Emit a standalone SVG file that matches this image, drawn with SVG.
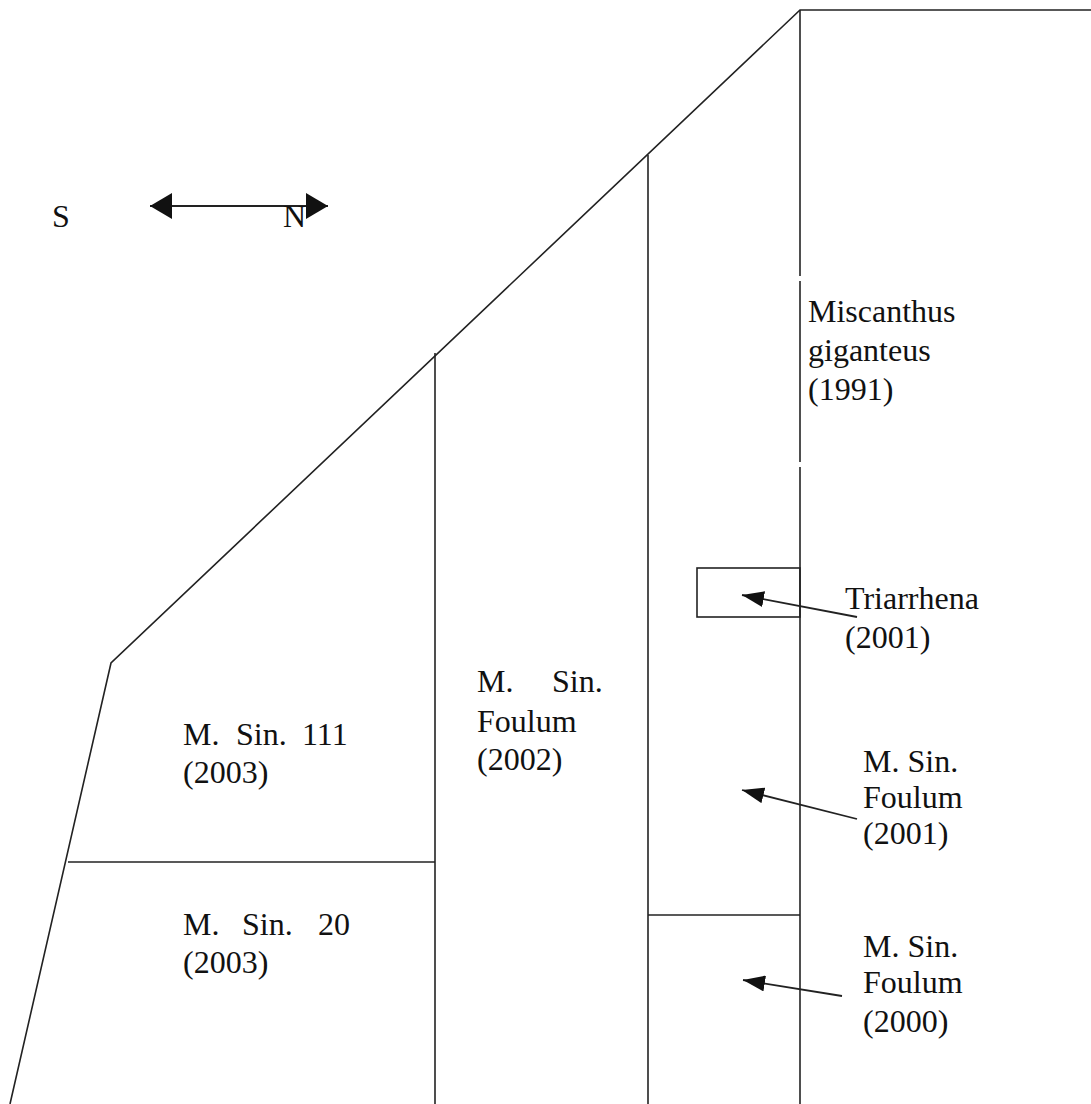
<svg xmlns="http://www.w3.org/2000/svg" width="1091" height="1104" viewBox="0 0 1091 1104">
<style>
.ln{stroke:#222;stroke-width:1.6;fill:none}
.ar{stroke:#222;stroke-width:1.8;fill:none}
.t{font-family:"Liberation Serif","DejaVu Serif","Times New Roman",serif;font-size:32px;fill:#111}
</style>
<defs>
<marker id="head" viewBox="0 0 10 10" refX="10" refY="5" markerWidth="22" markerHeight="16" markerUnits="userSpaceOnUse" orient="auto-start-reverse" preserveAspectRatio="none">
<path d="M0,0 L10,5 L0,10 Z" fill="#111"/>
</marker>
<marker id="chead" viewBox="0 0 10 10" refX="10" refY="5" markerWidth="22" markerHeight="26" markerUnits="userSpaceOnUse" orient="auto-start-reverse" preserveAspectRatio="none">
<path d="M0,0 L10,5 L0,10 Z" fill="#111"/>
</marker>
</defs>
<rect width="1091" height="1104" fill="#fff"/>
<g id="field-outline">
<polyline class="ln" points="1091,10 800,10 111,663 10,1104"/>
<line class="ln" x1="800" y1="10" x2="800" y2="276"/>
<line class="ln" x1="800" y1="281" x2="800" y2="462"/>
<line class="ln" x1="800" y1="467" x2="800" y2="1104"/>
<line class="ln" x1="648" y1="155" x2="648" y2="1104"/>
<line class="ln" x1="435" y1="353" x2="435" y2="1104"/>
<line class="ln" x1="68" y1="862" x2="435" y2="862"/>
<line class="ln" x1="648" y1="915" x2="800" y2="915"/>
<rect class="ln" x="697" y="568" width="103" height="49"/>
</g>
<g id="compass">
<line class="ar" x1="150" y1="206" x2="328" y2="206" marker-start="url(#chead)" marker-end="url(#chead)"/>
<text class="t" font-family="Liberation Serif, DejaVu Serif, serif" x="52" y="227">S</text>
<text class="t" font-family="Liberation Serif, DejaVu Serif, serif" x="283" y="227">N</text>
</g>
<g id="node-miscanthus" class="t" font-family="Liberation Serif, DejaVu Serif, serif">
<text class="t" x="808" y="322">Miscanthus</text>
<text class="t" x="808" y="361">giganteus</text>
<text class="t" x="808" y="400">(1991)</text>
</g>
<g id="node-triarrhena">
<text class="t" x="845" y="609">Triarrhena</text>
<text class="t" x="845" y="648">(2001)</text>
</g>
<g id="node-msin-foulum-2001">
<text class="t" x="863" y="772">M. Sin.</text>
<text class="t" x="863" y="808">Foulum</text>
<text class="t" x="863" y="844">(2001)</text>
</g>
<g id="node-msin-foulum-2000">
<text class="t" x="863" y="957">M. Sin.</text>
<text class="t" x="863" y="993">Foulum</text>
<text class="t" x="863" y="1032">(2000)</text>
</g>
<g id="node-msin-foulum-2002">
<text class="t" y="692"><tspan x="477">M.</tspan><tspan x="552">Sin.</tspan></text>
<text class="t" x="477" y="732">Foulum</text>
<text class="t" x="477" y="770">(2002)</text>
</g>
<g id="node-msin-111">
<text class="t" y="745"><tspan x="183">M.</tspan><tspan x="236">Sin.</tspan><tspan x="302">111</tspan></text>
<text class="t" x="183" y="783">(2003)</text>
</g>
<g id="node-msin-20">
<text class="t" y="935"><tspan x="183">M.</tspan><tspan x="242">Sin.</tspan><tspan x="318">20</tspan></text>
<text class="t" x="183" y="973">(2003)</text>
</g>
<g id="connectors">
<line class="ar" x1="857" y1="617" x2="742" y2="595" marker-end="url(#head)"/>
<line class="ar" x1="857" y1="819" x2="742" y2="790" marker-end="url(#head)"/>
<line class="ar" x1="842" y1="996" x2="743" y2="980" marker-end="url(#head)"/>
</g>
</svg>
